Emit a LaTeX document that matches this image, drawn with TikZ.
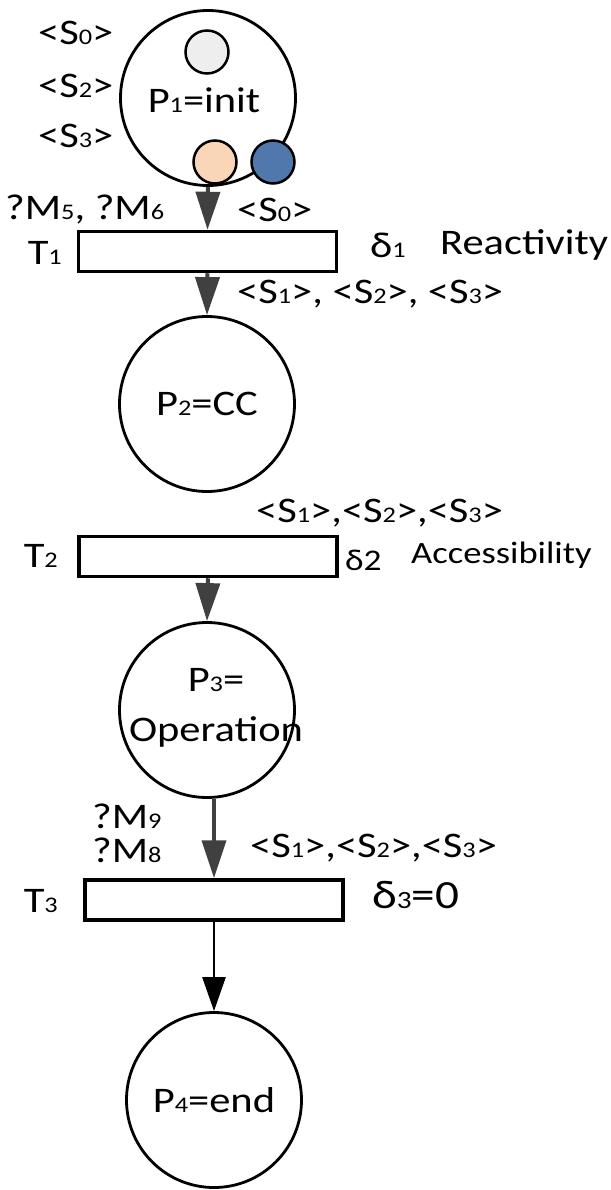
\documentclass[tikz,border=0pt]{standalone}
\usepackage{fontspec}
\usepackage{graphicx}
\setmainfont{Carlito}[FakeStretch=1.18]
\usetikzlibrary{arrows.meta}

\definecolor{tokgray}{RGB}{238,238,238}
\definecolor{tokpeach}{RGB}{249,214,184}
\definecolor{tokblue}{RGB}{80,120,172}
\definecolor{arcgray}{RGB}{64,64,64}
\newcommand{\idx}[1]{\scalebox{0.62}{#1}}

\begin{document}
\begin{tikzpicture}[x=1pt,y=-1pt,font=\fontsize{36}{48}\selectfont,
  place/.style={circle,draw,line width=2.8pt,minimum size=175pt,inner sep=0pt},
  trans/.style={draw,line width=3.5pt,minimum width=258pt,minimum height=40pt,inner sep=0pt},
  token/.style={circle,draw,line width=2.5pt,minimum size=43pt,inner sep=0pt},
  lbl/.style={font=\fontsize{36}{40}\selectfont,inner sep=0pt},
  arc/.style={draw=arcgray,line width=4pt,-{Triangle[width=24pt,length=38pt]}},
  endarc/.style={draw=black,line width=2.6pt,-{Triangle[width=23pt,length=34pt]}}]
  \useasboundingbox (0,0) rectangle (610,1190);

  % Places
  \node[place] (p1) at (208,98) {};
  \node (p1txt) at (204,100) {P\idx{1}=init};
  \node[place] (p2) at (207,404) {P\idx{2}=CC};
  \node[place] (p3) at (207,710) {};
  \node[align=center,inner sep=0pt] (p3txt) at (216,708) {P\idx{3}=\\[2pt]Operation};
  \node[place] (p4) at (214,1100) {P\idx{4}=end};

  % Tokens in P1
  \node[token,fill=tokgray] (tok0) at (207,52) {};
  \node[token,fill=tokpeach] (tok1) at (215,162) {};
  \node[token,fill=tokblue] (tok2) at (273,162) {};

  % Transitions
  \node[trans] (t1) at (207.5,251.5) {};
  \node[trans] (t2) at (208,556.5) {};
  \node[trans] (t3) at (214,900) {};

  % Arcs
  \draw[arc] (p1.south) -- (t1.north);
  \draw[arc] (t1.south) -- (p2.north);
  \draw[arc] (t2.south) -- (p3.north);
  \draw[arc] (t3.north |- p3.south) -- (t3.north);
  \draw[endarc] (t3.south) -- (p4.north);

  % Labels round P1 and T1
  \node[lbl,anchor=west] (s0) at (38,33) {<S\idx{0}>};
  \node[lbl,anchor=west] (s2) at (38,86) {<S\idx{2}>};
  \node[lbl,anchor=west] (s3) at (38,136) {<S\idx{3}>};
  \node[lbl,anchor=west] (m56) at (5,210) {?M\idx{5}, ?M\idx{6}};
  \node[lbl,anchor=west] (in1) at (237,210) {<S\idx{0}>};
  \node[lbl,anchor=east] (t1lbl) at (62,253) {T\idx{1}};
  \node[lbl,anchor=west] (d1) at (370,245) {δ\idx{1}};
  \node[anchor=west,inner sep=0pt] (react) at (440,245) {Reactivity};
  \node[lbl,anchor=west] (out1) at (237,294) {<S\idx{1}>, <S\idx{2}>, <S\idx{3}>};

  % Labels round T2
  \node[lbl,anchor=west] (in2) at (256,513) {<S\idx{1}>,<S\idx{2}>,<S\idx{3}>};
  \node[lbl,anchor=east] (t2lbl) at (58,556) {T\idx{2}};
  \node[anchor=west,inner sep=0pt,font=\fontsize{30}{36}\selectfont] (d2) at (345,560) {δ2};
  \node[anchor=west,inner sep=0pt,font=\fontsize{31}{36}\selectfont] (access) at (411,555) {Accessibility};

  % Labels round T3
  \node[lbl,anchor=west] (m9) at (92,816) {?M\idx{9}};
  \node[lbl,anchor=west] (m8) at (92,850) {?M\idx{8}};
  \node[lbl,anchor=west] (in3) at (250,848) {<S\idx{1}>,<S\idx{2}>,<S\idx{3}>};
  \node[lbl,anchor=east] (t3lbl) at (58,901) {T\idx{3}};
  \node[anchor=west,inner sep=0pt,font=\fontsize{40}{44}\selectfont] (d3) at (372,895) {δ\idx{3}=0};
\end{tikzpicture}
\end{document}
